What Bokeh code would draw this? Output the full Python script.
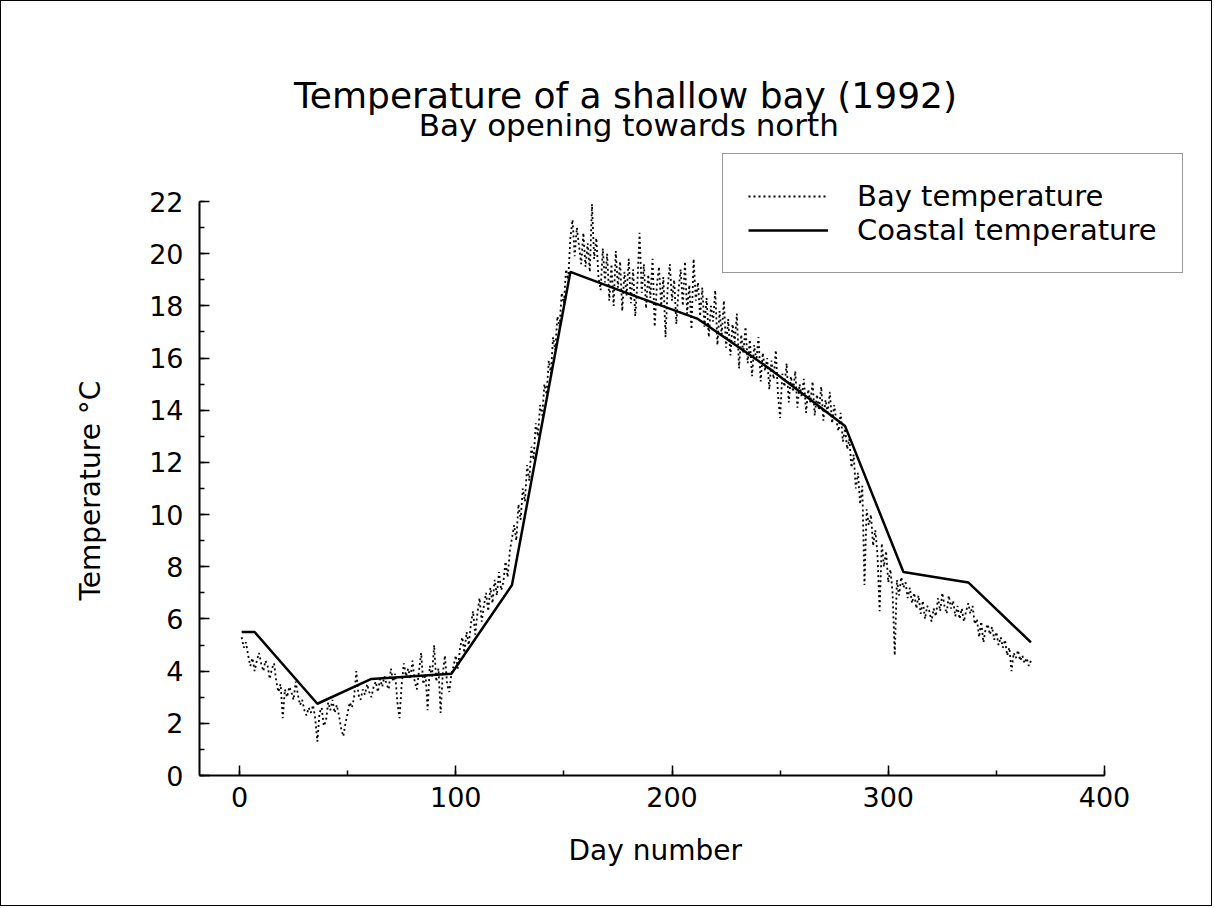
from bokeh.plotting import figure
from bokeh.models import Range1d, Legend, LegendItem, Label, SingleIntervalTicker, Title
from bokeh.embed import file_html
from bokeh.resources import INLINE

# ---- data ----
bay_days = list(range(1, 367))
bay_temp = [
    # days 1-36
    5.3, 4.9, 5.1, 4.6, 4.2, 4.5, 4.0, 4.4, 4.7, 4.3, 4.0, 4.4, 4.2, 3.7, 4.1, 4.3, 3.6, 3.2,
    3.5, 2.2, 3.3, 3.0, 3.4, 3.2, 2.9, 3.6, 3.1, 2.7, 2.9, 2.5, 2.3, 2.6, 2.4, 2.7, 2.2, 1.3,
    # days 37-98
    2.4, 2.6, 1.9, 2.1, 2.8, 2.5, 2.9, 2.4, 2.7, 2.3, 1.8, 1.5, 2.0, 2.4, 2.8, 2.6, 3.0, 4.0,
    3.1, 2.9, 3.3, 3.1, 3.5, 3.2, 3.0, 3.4, 3.6, 3.2, 3.7, 3.4, 3.8, 3.5, 3.3, 4.1, 3.6, 3.9,
    2.8, 2.2, 3.5, 4.3, 3.8, 4.1, 3.7, 4.4, 3.6, 3.3, 4.0, 4.7, 3.5, 3.9, 2.5, 4.2, 3.8, 5.0,
    3.6, 4.1, 2.4, 3.9, 4.6, 3.5, 3.2, 3.9,
    # days 99-126
    4.2, 4.6, 4.1, 4.9, 5.3, 4.7, 5.5, 5.0, 5.8, 6.3, 5.4, 6.2, 6.8, 5.9, 6.5, 7.0, 6.3, 7.2,
    6.6, 7.5, 6.9, 7.8, 7.1, 7.4, 8.2, 7.6, 8.6, 9.1,
    # days 127-153
    9.6, 9.0, 10.4, 9.8, 11.0, 10.5, 11.9, 11.3, 12.6, 12.1, 13.5, 13.0, 14.2, 13.8, 15.0,
    14.6, 15.9, 15.4, 16.8, 16.3, 17.6, 17.2, 18.5, 18.1, 19.4, 19.0, 20.6,
    # days 154-180
    21.3, 19.9, 21.0, 20.3, 19.6, 20.8, 19.5, 20.4, 19.3, 21.9, 19.8, 20.6, 19.1, 18.6, 20.2,
    18.9, 20.0, 18.2, 19.6, 18.0, 20.1, 18.7, 19.7, 17.8, 19.3, 18.4, 19.8,
    # days 181-212
    18.1, 19.4, 17.6, 18.9, 20.8, 18.5, 19.6, 17.9, 19.2, 18.3, 19.8, 17.2, 18.8, 19.5, 18.0,
    19.1, 16.8, 18.7, 19.6, 18.2, 19.0, 17.3, 18.6, 19.4, 18.0, 19.7, 17.7, 18.8, 17.1, 19.8,
    18.2, 18.9,
    # days 213-245
    17.6, 18.7, 17.2, 18.3, 16.8, 18.0, 17.4, 18.6, 16.5, 17.8, 16.9, 18.2, 16.4, 17.5, 16.1,
    17.3, 16.6, 17.7, 15.6, 16.9, 16.2, 17.2, 15.8, 16.7, 15.3, 16.5, 15.9, 16.8, 15.1, 16.2,
    15.5, 16.0, 14.8,
    # days 246-280
    15.9, 15.2, 16.3, 14.6, 13.7, 15.4, 14.9, 15.8, 14.3, 15.3, 14.7, 15.5, 14.1, 15.0, 14.5,
    15.2, 13.9, 14.8, 14.3, 15.1, 13.8, 14.6, 14.0, 14.9, 13.6, 14.4, 13.9, 14.7, 13.5, 14.2,
    13.6, 13.2, 13.9, 12.8, 13.3,
    # days 281-307
    12.5, 12.9, 11.8, 12.3, 11.0, 11.6, 10.4, 11.1, 7.3, 10.2, 9.6, 10.0, 8.8, 9.4, 8.5, 6.3,
    8.9, 8.0, 8.6, 7.4, 7.9, 7.0, 4.6, 7.5, 6.9, 7.6, 7.2,
    # days 308-337
    7.4, 6.8, 7.2, 6.6, 7.0, 6.4, 6.9, 6.2, 6.7, 6.0, 6.5, 6.3, 5.9, 6.4, 6.1, 6.8, 6.3, 7.0,
    6.5, 6.2, 6.9, 6.4, 6.7, 6.1, 6.5, 6.0, 6.4, 5.9, 6.3, 6.6,
    # days 338-366
    6.2, 6.5, 5.8, 6.0, 5.3, 5.9, 5.1, 5.6, 5.8, 5.4, 5.7, 5.2, 5.5, 5.0, 5.3, 4.9, 5.2, 4.6,
    4.9, 4.0, 4.7, 4.5, 4.8, 4.4, 4.6, 4.3, 4.5, 4.2, 4.4,
]

coastal_days = [1, 7, 36, 61, 98, 126, 153, 182, 212, 245, 280, 307, 337, 366]
coastal_temp = [5.5, 5.5, 2.75, 3.7, 3.9, 7.3, 19.3, 18.4, 17.5, 15.6, 13.4, 7.8, 7.4, 5.1]

x_axis_bounds = (-18.5, 400)
y_axis_bounds = (0, 22)
x_ticks_interval = 100
y_ticks_interval = 2

title_text = "Temperature of a shallow bay (1992)"
subtitle_text = "Bay opening towards north"
x_label = "Day number"
y_label = "Temperature \u00b0C"

FONT = "DejaVu Sans"

W, H = 1212, 906
LEFT, BOTTOM = 198, 132
PX_X = 2.1625   # pixels per day
PX_Y = 26.0909  # pixels per degree
x_end = x_axis_bounds[0] + (W - LEFT) / PX_X
y_end = (H - BOTTOM) / PX_Y

p = figure(width=W, height=H, output_backend="svg", toolbar_location=None,
           x_range=Range1d(x_axis_bounds[0], x_end), y_range=Range1d(0, y_end), title=None)
p.min_border_left = LEFT
p.min_border_right = 0
p.min_border_top = 0
p.min_border_bottom = BOTTOM
p.outline_line_color = None
p.xgrid.visible = False
p.ygrid.visible = False
p.background_fill_color = "white"
p.border_fill_color = "white"
p.styles = {"border": "1px solid black"}

r_bay = p.line(bay_days, bay_temp, line_color="black", line_width=1.8, line_dash="2 3")
r_coast = p.line(coastal_days, coastal_temp, line_color="black", line_width=2.5)

for ax in (p.xaxis[0], p.yaxis[0]):
    ax.axis_line_width = 2
    ax.axis_line_color = "black"
    ax.major_tick_in = 10
    ax.major_tick_out = 0
    ax.minor_tick_in = 5
    ax.minor_tick_out = 0
    ax.major_tick_line_width = 1.5
    ax.minor_tick_line_width = 1.5
    ax.major_tick_line_color = "black"
    ax.minor_tick_line_color = "black"
    ax.major_label_text_font = FONT
    ax.major_label_text_font_size = "27px"
    ax.major_label_text_color = "black"

p.xaxis[0].bounds = x_axis_bounds
p.yaxis[0].bounds = y_axis_bounds
p.xaxis[0].ticker = SingleIntervalTicker(interval=x_ticks_interval, num_minor_ticks=2)
p.yaxis[0].ticker = SingleIntervalTicker(interval=y_ticks_interval, num_minor_ticks=2)
p.xaxis[0].major_label_standoff = 11
p.yaxis[0].major_label_standoff = 16

# axis titles placed as Title annotations so they can be offset along the axes
p.add_layout(Title(text=x_label, align="left", offset=369, standoff=44,
                   text_font=FONT, text_font_size="28px", text_font_style="normal",
                   text_color="black"), "below")
p.add_layout(Title(text=y_label, align="left", offset=175, standoff=80,
                   text_font=FONT, text_font_size="28px", text_font_style="normal",
                   text_color="black"), "left")

p.add_layout(Label(x=178.5, y=26.05, text=title_text, text_align="center",
                   text_baseline="middle", text_font=FONT, text_font_size="36px",
                   text_color="black"))
p.add_layout(Label(x=180.0, y=24.92, text=subtitle_text, text_align="center",
                   text_baseline="middle", text_font=FONT, text_font_size="31px",
                   text_color="black"))

legend = Legend(items=[LegendItem(label="Bay temperature", renderers=[r_bay]),
                       LegendItem(label="Coastal temperature", renderers=[r_coast])],
                location=(523, 502), orientation="vertical")
legend.border_line_color = "#333333"
legend.border_line_width = 1.5
legend.background_fill_alpha = 1
legend.label_text_font = FONT
legend.label_text_font_size = "29px"
legend.label_text_color = "black"
legend.glyph_width = 80
legend.glyph_height = 24
legend.label_height = 24
legend.label_standoff = 29
legend.padding = 25
legend.spacing = 0
legend.margin = 0
p.add_layout(legend)

open("out.html", "w").write(file_html(p, INLINE))
